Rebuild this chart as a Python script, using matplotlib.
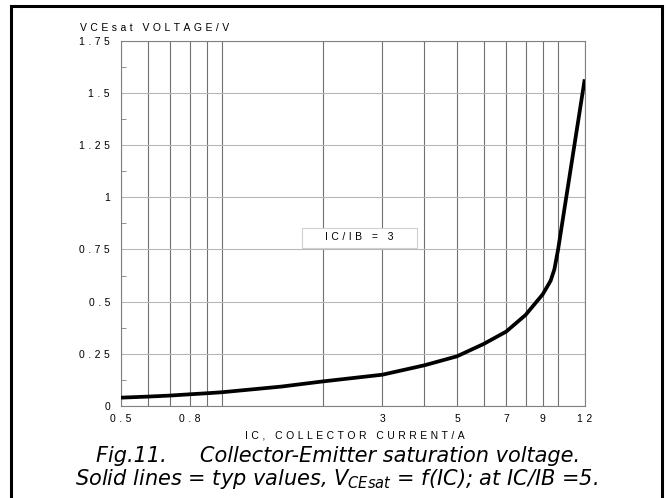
import numpy as np
import matplotlib
matplotlib.use("Agg")
import matplotlib.pyplot as plt
from matplotlib.patches import Rectangle

plt.rcParams['font.family'] = ['Liberation Sans', 'DejaVu Sans']
plt.rcParams['mathtext.fontset'] = 'dejavusans'

# curve: IC (A) -> VCEsat (V)
ic = [0.5, 0.6, 0.7, 0.8, 0.9, 1.0, 1.5, 2, 3, 4, 5, 6, 7, 8, 9, 9.5, 9.75, 10, 12]
vce = [0.040, 0.045, 0.050, 0.056, 0.061, 0.066, 0.093, 0.118, 0.150, 0.195,
       0.238, 0.297, 0.356, 0.436, 0.535, 0.600, 0.655, 0.750, 1.565]

x_grid = [0.5, 0.6, 0.7, 0.8, 0.9, 1, 2, 3, 4, 5, 6, 7, 8, 9, 10, 12]
x_ticks = [0.5, 0.8, 3, 5, 7, 9, 12]
x_labels = ['0.5', '0.8', '3', '5', '7', '9', '12']
y_ticks = [0, 0.25, 0.5, 0.75, 1, 1.25, 1.5, 1.75]
y_labels = ['0', '0.25', '0.5', '0.75', '1', '1.25', '1.5', '1.75']
y_minor = [0.125, 0.375, 0.625, 0.875, 1.125, 1.375, 1.625]

W, H = 668, 498
FS = 7.5

def spaced(s):
    # the original lettering is widely tracked
    return '\u2004'.join(s)

fig = plt.figure(figsize=(W/100, H/100), dpi=100)
ax = fig.add_axes([121/W, 1-406/H, 463.7/W, 365.3/H])

ax.plot(ic, vce, color='black', lw=2.7, solid_capstyle='butt', zorder=5)

ax.set_xscale('log')
ax.set_xlim(0.5, 12)
ax.set_ylim(0, 1.75)

ax.set_xticks(x_ticks)
ax.set_xticklabels([spaced(s) for s in x_labels], fontsize=FS)
ax.set_xticks(x_grid, minor=True)
ax.set_xticklabels([], minor=True)
ax.set_yticks(y_ticks)
ax.set_yticklabels([spaced(s) for s in y_labels], fontsize=FS)
ax.set_yticks(y_minor, minor=True)

ax.tick_params(axis='x', which='both', length=0, pad=5.5)
ax.tick_params(axis='y', which='major', length=0, pad=8)
ax.tick_params(axis='y', which='minor', direction='in', length=3.6,
               width=0.7, color='#909090')

for v in x_grid:
    ax.axvline(v, color='#707070', lw=0.8, zorder=1)
for v in y_ticks:
    ax.axhline(v, color='#b8b8b8', lw=0.8, zorder=1)
for sp in ax.spines.values():
    sp.set_color('#808080')
    sp.set_linewidth(0.8)

# label box
ax.add_patch(Rectangle((0.3897, 0.432), 0.2493, 0.054, transform=ax.transAxes,
                       facecolor='white', edgecolor='#d0d0d0', lw=0.8, zorder=3))
ax.text(0.5144, 0.462, spaced('IC/IB = 3'), transform=ax.transAxes,
        ha='center', va='center', fontsize=FS, zorder=4)

fig.text(80/W, 1-28/H, spaced('VCEsat VOLTAGE/V'), ha='left', va='center', fontsize=FS)
fig.text(354.5/W, 1-435.7/H, spaced('IC, COLLECTOR CURRENT/A'), ha='center', va='center',
         fontsize=FS)

cap = dict(ha='center', va='baseline', fontsize=15, style='italic', family='DejaVu Sans')
fig.text(338.5/W, 1-462/H, 'Fig.11.     Collector-Emitter saturation voltage.', **cap)
fig.text(336.5/W, 1-485/H, r'Solid lines = typ values, $V_{CEsat}$ = f(IC); at IC/IB =5.', **cap)

# outer frame, open at the bottom edge
fig.patches.append(Rectangle((10.5/W, -0.1), (662-10.5)/W, 1 - 6.5/H + 0.1,
                             transform=fig.transFigure, fill=False, lw=2.2,
                             edgecolor='black'))

fig.savefig('out.png', dpi=100)
